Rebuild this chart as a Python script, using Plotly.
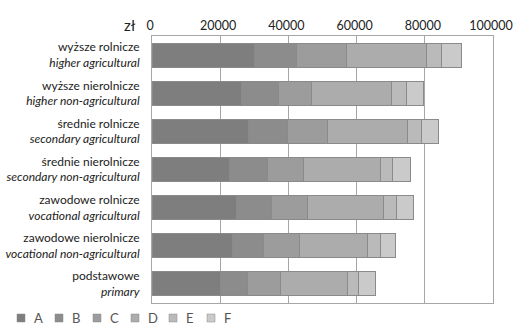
import plotly.graph_objects as go

# Categories (Polish / English), top to bottom
cat_pl = ["wyższe rolnicze", "wyższe nierolnicze", "średnie rolnicze",
          "średnie nierolnicze", "zawodowe rolnicze", "zawodowe nierolnicze",
          "podstawowe"]
cat_en = ["higher agricultural", "higher non-agricultural", "secondary agricultural",
          "secondary non-agricultural", "vocational agricultural",
          "vocational non-agricultural", "primary"]

# Component values in zł
A = [30200, 26100, 28200, 22600, 24900, 23700, 20000]
B = [12300, 10900, 11400, 11400, 10200, 9100, 7900]
C = [14400, 9700, 12000, 10300, 10600, 10600, 9700]
D = [23700, 23400, 23400, 22600, 22300, 19900, 19600]
E = [4400, 4400, 4100, 3500, 3800, 3800, 3500]
F = [5900, 5000, 5000, 5300, 5000, 4400, 4700]

series = {"A": A, "B": B, "C": C, "D": D, "E": E, "F": F}
colors = {"A": "#7e7e7e", "B": "#8c8c8c", "C": "#9c9c9c",
          "D": "#acacac", "E": "#bababa", "F": "#cacaca"}

x_ticks = [0, 20000, 40000, 60000, 80000, 100000]

labels = [f"{p}<br><i>{e}</i>" for p, e in zip(cat_pl, cat_en)]

W, H = 515, 327
ML, MR, MT, MB = 152, 22, 36, 24
PW, PH = W - ML - MR, H - MT - MB

fig = go.Figure()
for name, vals in series.items():
    fig.add_trace(go.Bar(
        y=labels, x=vals, name=name, orientation="h",
        marker=dict(color=colors[name], line=dict(color="#8a8a8a", width=1)),
    ))

# Compact legend row under the plot: small square + letter per series
shapes, annotations = [], []
leg_x0, leg_step, sq, leg_yc = 17, 38, 8, H - 9
for i, name in enumerate(series):
    px = leg_x0 + leg_step * i
    shapes.append(dict(
        type="rect", xref="paper", yref="paper",
        x0=(px - ML) / PW, x1=(px + sq - ML) / PW,
        y0=(H - MB - leg_yc - sq / 2) / PH, y1=(H - MB - leg_yc + sq / 2) / PH,
        fillcolor=colors[name], line=dict(color="#8a8a8a", width=0.5)))
    annotations.append(dict(
        text=name, xref="paper", yref="paper",
        x=(px + sq + 7 - ML) / PW, y=(H - MB - leg_yc) / PH,
        xanchor="left", yanchor="middle", showarrow=False,
        font=dict(size=13, color="#555555")))

annotations.append(dict(text="zł", xref="paper", yref="paper", x=(138 - ML) / PW, y=1.0,
                        xanchor="right", yanchor="bottom", showarrow=False,
                        font=dict(size=15, color="#222222")))

fig.update_layout(
    barmode="stack",
    bargap=0.37,
    width=W, height=H,
    margin=dict(l=ML, r=MR, t=MT, b=MB, autoexpand=False),
    paper_bgcolor="white", plot_bgcolor="white",
    font=dict(family="Lato, sans-serif", size=13, color="#222222"),
    showlegend=False,
    xaxis=dict(side="top", range=[0, 100000], tickvals=x_ticks,
               ticktext=[str(v) for v in x_ticks], ticklabeloverflow="allow",
               ticklabelshift=-2,
               showgrid=True, gridcolor="#a6a6a6", gridwidth=1,
               showline=True, linecolor="#a6a6a6", mirror=True, automargin=False,
               zeroline=False, ticks="", tickfont=dict(size=12.5, color="#222222")),
    yaxis=dict(autorange="reversed", showline=True, linecolor="#a6a6a6", mirror=True,
               ticks="", ticklabelstandoff=9, automargin=False,
               tickfont=dict(family="Lato, sans-serif", size=12, color="#222222")),
    shapes=shapes,
    annotations=annotations,
)

fig.write_html("out.html")
